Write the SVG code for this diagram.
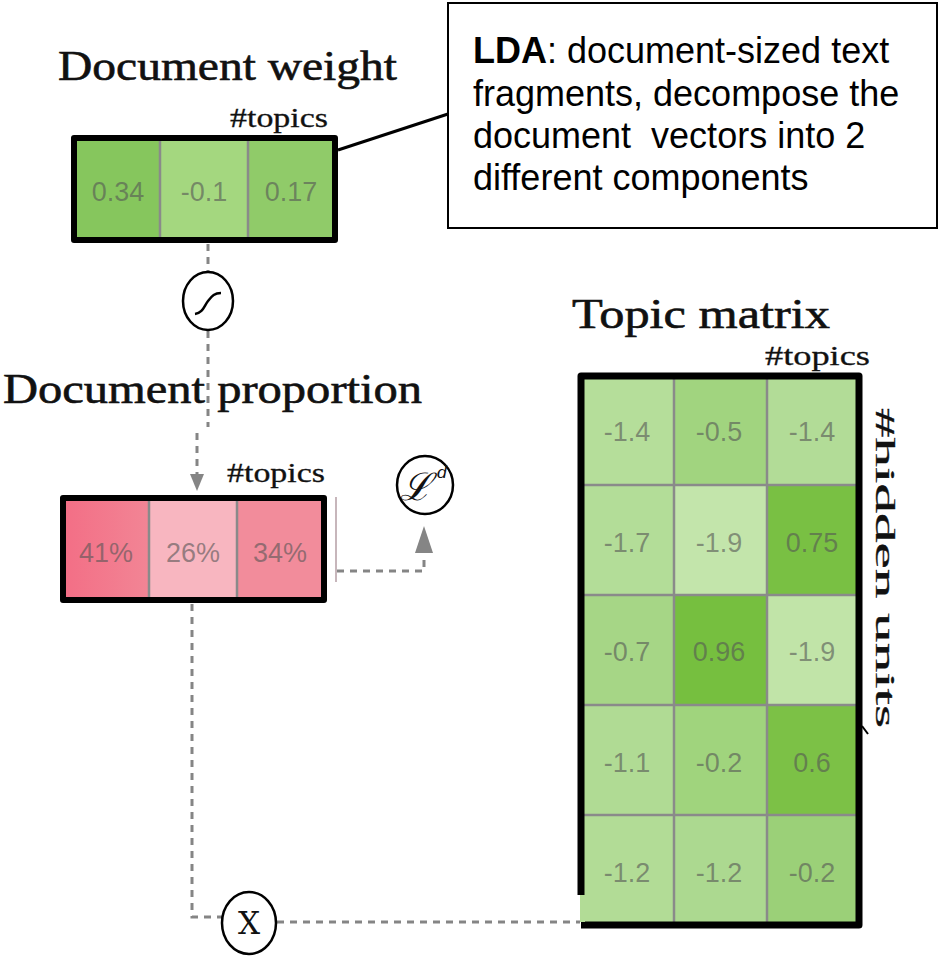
<svg xmlns="http://www.w3.org/2000/svg" width="941" height="957" viewBox="0 0 941 957">
  <style>
    .title { font-family: "Liberation Serif", "DejaVu Serif", serif; font-size: 42px; fill: #111; stroke: #111; stroke-width: 0.6; }
    .dim { font-family: "Liberation Serif", "DejaVu Serif", serif; font-size: 27px; fill: #111; stroke: #111; stroke-width: 0.3; }
    .val { font-family: "Liberation Sans", Arial, sans-serif; font-size: 27px; fill: #555; fill-opacity: 0.6; text-anchor: middle; }
    .note { font-family: "Liberation Sans", Arial, sans-serif; font-size: 36px; fill: #000; white-space: pre; }
    .frame { fill: none; stroke: #000; stroke-width: 6; stroke-linejoin: round; }
    .grid { stroke: #8a8a8a; stroke-width: 2.5; }
    .dash { fill: none; stroke: #858585; stroke-width: 3; stroke-dasharray: 7 6; }
    .op { fill: #fff; stroke: #000; stroke-width: 2.5; }
    .sym { font-family: "DejaVu Serif", "Liberation Serif", serif; fill: #111; }
  </style>
  <defs>
    <linearGradient id="pinkShade" x1="0" y1="0" x2="1" y2="0">
      <stop offset="0" stop-color="#f36f86"/>
      <stop offset="1" stop-color="#f28595"/>
    </linearGradient>
  </defs>

  <!-- connectors -->
  <g id="connectors">
    <line x1="338" y1="150" x2="448" y2="114" stroke="#000" stroke-width="3"/>
    <path class="dash" d="M208,244 V272"/>
    <path class="dash" d="M208,331 V427"/>
    <path class="dash" d="M197,433 V476"/>
    <path d="M190,474 L204,474 L197,491 Z" fill="#858585"/>
    <path class="dash" d="M337,571 H424 V555"/>
    <path d="M415,553 L433,553 L424,526 Z" fill="#858585"/>
    <path class="dash" d="M192,604 V917 H222"/>
    <path class="dash" d="M277,922 H580"/>
    <line x1="336" y1="497" x2="336" y2="582" stroke="#b59ea5" stroke-width="1.5"/>
  </g>

  <!-- Document weight vector -->
  <g id="doc-weight">
    <text class="title" x="58" y="80" textLength="339" lengthAdjust="spacingAndGlyphs">Document weight</text>
    <text class="dim" x="230" y="127" textLength="98" lengthAdjust="spacingAndGlyphs">#topics</text>
    <rect x="77" y="141" width="83" height="99" fill="#86c65d"/>
    <rect x="160" y="141" width="88" height="99" fill="#a4d77f"/>
    <rect x="248" y="141" width="87" height="99" fill="#90cb69"/>
    <line class="grid" x1="160" y1="141" x2="160" y2="240"/>
    <line class="grid" x1="248" y1="141" x2="248" y2="240"/>
    <rect class="frame" x="74" y="138" width="261" height="102"/>
    <text class="val" x="118" y="201">0.34</text>
    <text class="val" x="204" y="201">-0.1</text>
    <text class="val" x="291" y="201">0.17</text>
  </g>

  <!-- LDA note -->
  <g id="lda-note">
    <rect x="448" y="3" width="489" height="225" fill="#fff" stroke="#000" stroke-width="2"/>
    <text class="note" x="473" y="63"><tspan font-weight="bold">LDA</tspan>: document-sized text</text>
    <text class="note" x="473" y="106">fragments, decompose the</text>
    <text class="note" x="473" y="148" xml:space="preserve">document  vectors into 2</text>
    <text class="note" x="473" y="190">different components</text>
  </g>

  <!-- sigmoid -->
  <g id="sigmoid">
    <ellipse class="op" cx="208" cy="301" rx="25" ry="29"/>
    <path d="M195,314 C203,313 204,306 208,301 C212,296 214,293 221,293" fill="none" stroke="#000" stroke-width="2.5"/>
  </g>

  <!-- Document proportion vector -->
  <g id="doc-proportion">
    <text class="title" x="3" y="403" textLength="419" lengthAdjust="spacingAndGlyphs">Document proportion</text>
    <text class="dim" x="227" y="482" textLength="98" lengthAdjust="spacingAndGlyphs">#topics</text>
    <rect x="66" y="501" width="83" height="99" fill="url(#pinkShade)"/>
    <rect x="149" y="501" width="88" height="99" fill="#f8b6c0"/>
    <rect x="237" y="501" width="87" height="99" fill="#f28c9b"/>
    <line class="grid" x1="149" y1="501" x2="149" y2="600"/>
    <line class="grid" x1="237" y1="501" x2="237" y2="600"/>
    <rect class="frame" x="63" y="498" width="261" height="102"/>
    <text class="val" x="106" y="562">41%</text>
    <text class="val" x="193" y="562">26%</text>
    <text class="val" x="280" y="562">34%</text>
  </g>

  <!-- loss -->
  <g id="loss">
    <ellipse class="op" cx="425" cy="485" rx="28" ry="29"/>
    <text class="sym" x="416" y="500" font-size="38" font-style="italic" text-anchor="middle">ℒ</text>
    <text class="sym" x="437" y="478" font-size="17" font-style="italic">d</text>
  </g>

  <!-- product -->
  <g id="product">
    <ellipse class="op" cx="249" cy="923" rx="27" ry="31"/>
    <text class="sym" x="249" y="934" font-size="31" text-anchor="middle" font-family="Liberation Serif, serif">X</text>
  </g>

  <!-- Topic matrix -->
  <g id="topic-matrix">
    <text class="title" x="572" y="328" textLength="258" lengthAdjust="spacingAndGlyphs">Topic matrix</text>
    <text class="dim" x="765" y="365" textLength="105" lengthAdjust="spacingAndGlyphs">#topics</text>
    <text class="dim" font-size="36" transform="translate(876,408) rotate(90)" textLength="320" lengthAdjust="spacingAndGlyphs">#hidden units</text>

    <!-- row 1 -->
    <rect x="584" y="379" width="90" height="106" fill="#b5de9a"/>
    <rect x="674" y="379" width="93" height="106" fill="#a1d47f"/>
    <rect x="767" y="379" width="92" height="106" fill="#b2dc97"/>
    <!-- row 2 -->
    <rect x="584" y="485" width="90" height="110" fill="#b3dd98"/>
    <rect x="674" y="485" width="93" height="110" fill="#c3e5ab"/>
    <rect x="767" y="485" width="92" height="110" fill="#79c043"/>
    <!-- row 3 -->
    <rect x="584" y="595" width="90" height="110" fill="#a6d686"/>
    <rect x="674" y="595" width="93" height="110" fill="#76bf3f"/>
    <rect x="767" y="595" width="92" height="110" fill="#c1e4a8"/>
    <!-- row 4 -->
    <rect x="584" y="705" width="90" height="110" fill="#b0db94"/>
    <rect x="674" y="705" width="93" height="110" fill="#a0d47d"/>
    <rect x="767" y="705" width="92" height="110" fill="#7cc146"/>
    <!-- row 5 -->
    <rect x="584" y="815" width="90" height="110" fill="#b2dc96"/>
    <rect x="674" y="815" width="93" height="110" fill="#acd990"/>
    <rect x="767" y="815" width="92" height="110" fill="#9bd078"/>

    <line class="grid" x1="674" y1="379" x2="674" y2="925"/>
    <line class="grid" x1="767" y1="379" x2="767" y2="925"/>
    <line class="grid" x1="584" y1="485" x2="859" y2="485"/>
    <line class="grid" x1="584" y1="595" x2="859" y2="595"/>
    <line class="grid" x1="584" y1="705" x2="859" y2="705"/>
    <line class="grid" x1="584" y1="815" x2="859" y2="815"/>

    <path d="M581,895 V376 H859 V925 H581" fill="none" stroke="#000" stroke-width="7" stroke-linejoin="round"/>
    <rect x="580" y="895" width="5" height="27" fill="#b2dc96"/>
    <path d="M862,726 L868,734" stroke="#000" stroke-width="2" fill="none"/>

    <text class="val" x="627" y="441">-1.4</text>
    <text class="val" x="719" y="441">-0.5</text>
    <text class="val" x="812" y="441">-1.4</text>
    <text class="val" x="627" y="552">-1.7</text>
    <text class="val" x="719" y="552">-1.9</text>
    <text class="val" x="812" y="552">0.75</text>
    <text class="val" x="627" y="661">-0.7</text>
    <text class="val" x="719" y="661">0.96</text>
    <text class="val" x="812" y="661">-1.9</text>
    <text class="val" x="627" y="772">-1.1</text>
    <text class="val" x="719" y="772">-0.2</text>
    <text class="val" x="812" y="772">0.6</text>
    <text class="val" x="627" y="882">-1.2</text>
    <text class="val" x="719" y="882">-1.2</text>
    <text class="val" x="812" y="882">-0.2</text>
  </g>
</svg>
